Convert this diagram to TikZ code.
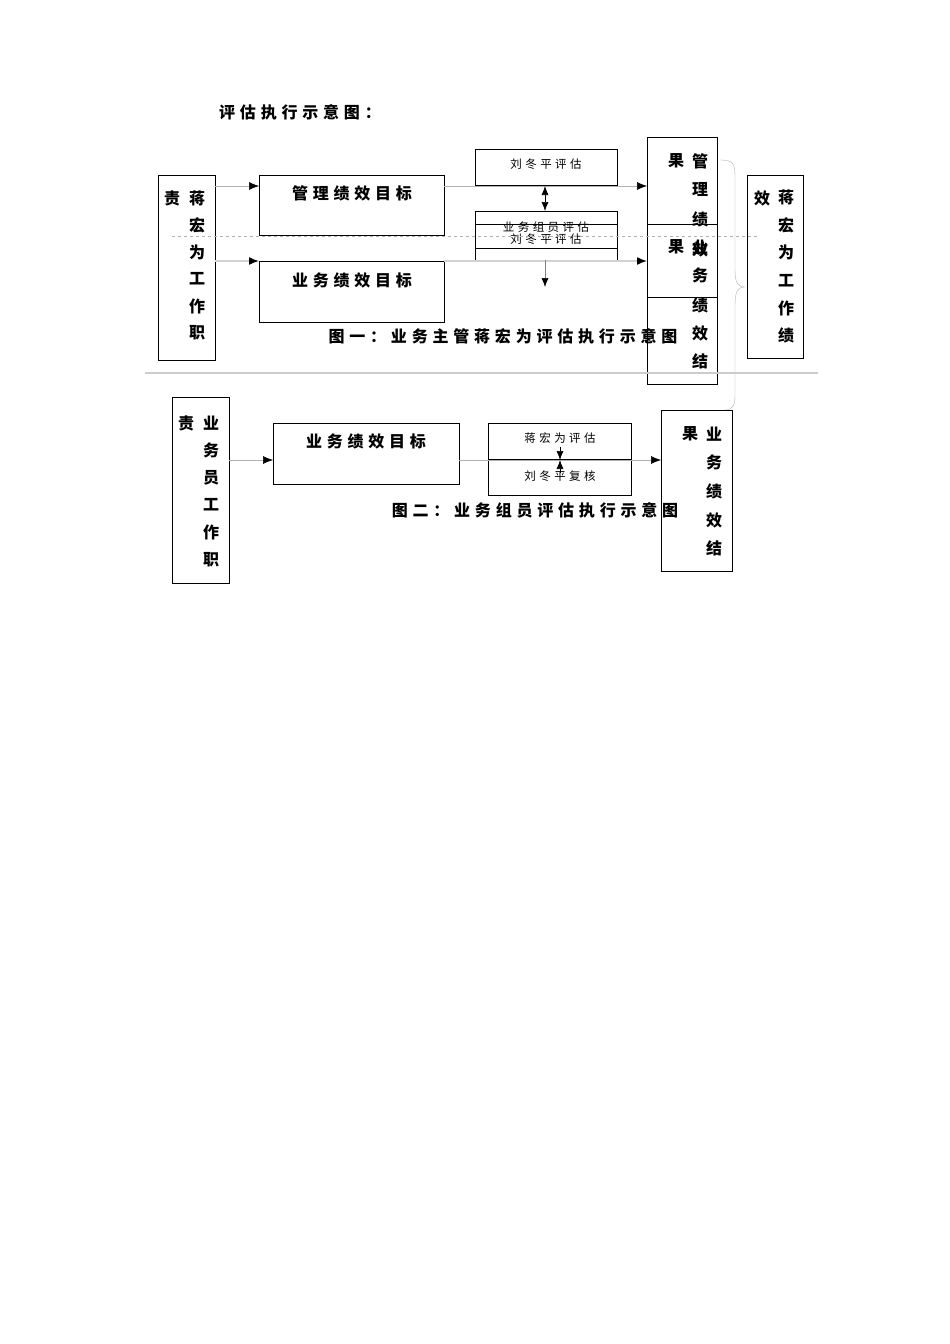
\documentclass[tikz,border=0pt]{standalone}
\usepackage{fontspec}
\setmainfont{Noto Sans CJK SC}
\newfontfamily\cj[LetterSpace=30]{Noto Sans CJK SC}
\usetikzlibrary{arrows.meta}
\begin{document}
\begin{tikzpicture}[x=1pt,y=-1pt,
  bx/.style={draw,line width=0.9pt},
  tip/.style={{Latex[length=10pt,width=8pt,black]}},
  ar/.style={-{Latex[length=10pt,width=8pt,black]},gray!60,line width=0.6pt},
  arb/.style={-{Latex[length=9pt,width=7pt,black]},black,line width=0.7pt},
  tx/.style={font=\cj\fontsize{16}{16}\selectfont\bfseries,inner sep=0},
  sm/.style={font=\cj\fontsize{11.5}{12}\selectfont,inner sep=0},
  ch/.style={font=\fontsize{16}{16}\selectfont\bfseries,inner sep=0}]
\useasboundingbox (0,0) rectangle (950,1344);
\fill[white] (0,0) rectangle (950,1344);
\node[tx] (title) at (300,112) {评估执行示意图：};
% figure 1
\draw[bx] (158,175) rectangle (215,360);
\node[ch] (a0) at (172,198) {责};
\foreach \c [count=\i] in {蒋,宏,为,工,作,职} \node[ch] (a\i) at (197,171+27*\i) {\c};
\node[bx,minimum width=185,minimum height=60,anchor=north west] (g1) at (259,175) {};
\node[tx] (g1t) at (352,193) {管理绩效目标};
\node[bx,minimum width=185,minimum height=61,anchor=north west] (g2) at (259,261) {};
\node[tx] (g2t) at (352,280) {业务绩效目标};
\node[bx,minimum width=142,minimum height=36,anchor=north west] (p1) at (475,149) {};
\node[sm] (p1t) at (546,164) {刘冬平评估};
\node[bx,minimum width=142,minimum height=49,anchor=north west] (p2) at (475,211) {};
\draw[bx] (475,224) -- (617,224) (475,248) -- (617,248);
\node[sm] (p2a) at (546,227) {业务组员评估};
\node[sm] (p2b) at (546,239) {刘冬平评估};
\node[bx,minimum width=70,minimum height=247,anchor=north west] (r1) at (647,137) {};
\node[bx,minimum width=70,minimum height=73,anchor=north west] (r2) at (647,224) {};
\node[ch] (r0) at (676,161) {果};
\node[ch] (r00) at (676,247) {果};
\foreach \c/\y in {管/161,理/189,绩/219,业/247,务/275,绩/305,效/333,结/361} \node[ch] at (700,\y) {\c};
\node[ch] at (700,249) {效};
\draw[bx] (747,175) rectangle (803,358);
\node[ch] (e0) at (762,198) {效};
\foreach \c [count=\i] in {蒋,宏,为,工,作,绩} \node[ch] (e\i) at (786,170+27.6*\i) {\c};
\draw[gray!60] (720,160) .. controls (735,160) and (735,165) .. (735,180) -- (735,270) .. controls (735,283) and (738,287) .. (745,287) .. controls (738,287) and (735,291) .. (735,305) -- (735,395) .. controls (735,405) and (733,410) .. (725,410);
\draw[ar] (215,186) -- (259,186);
\draw[ar,line width=1.5pt,gray!35] (215,261) -- (259,261);
\draw[ar] (444,186) -- (647,186);
\draw[ar,line width=1.5pt,gray!35] (444,261) -- (647,261);
\draw[{Latex[length=9pt,width=7pt]}-{Latex[length=9pt,width=7pt]},line width=0.7pt] (545,186) -- (545,211);
\draw[-{Latex[length=9pt,width=7pt,black]},line width=0.6pt,gray] (545,260) -- (545,287);
\draw[dashed,gray!60,line width=0.4pt] (172,236) -- (760,236);
\draw[gray!40,line width=1.5pt] (145,373) -- (818,373);
\node[tx] (cap1) at (503,336) {图一：业务主管蒋宏为评估执行示意图};
% figure 2
\draw[bx] (172,397) rectangle (229,583);
\node[ch] (b0) at (186,423) {责};
\foreach \c [count=\i] in {业,务,员,工,作,职} \node[ch] (b\i) at (211,395.5+27.4*\i) {\c};
\node[bx,minimum width=186,minimum height=61,anchor=north west] (h1) at (273,423) {};
\node[tx] (h1t) at (366,441) {业务绩效目标};
\node[bx,minimum width=143,minimum height=72,anchor=north west] (q1) at (488,423) {};
\draw[line width=1.6pt] (488,460) -- (631,460);
\node[sm] (q1a) at (560,438) {蒋宏为评估};
\node[sm] (q1b) at (560,476) {刘冬平复核};
\node[bx,minimum width=71,minimum height=161,anchor=north west] (s1) at (661,410) {};
\node[ch] (s0) at (690,434) {果};
\foreach \c/\y in {业/434,务/462,绩/491,效/520,结/548} \node[ch] at (714,\y) {\c};
\draw[ar] (229,460) -- (273,460);
\draw[ar] (459,460) -- (661,460);
\draw[arb] (560,447) -- (560,460);
\draw[arb] (560,473) -- (560,460);
\node[tx] (cap2) at (535,510) {图二：业务组员评估执行示意图};
\end{tikzpicture}
\end{document}
